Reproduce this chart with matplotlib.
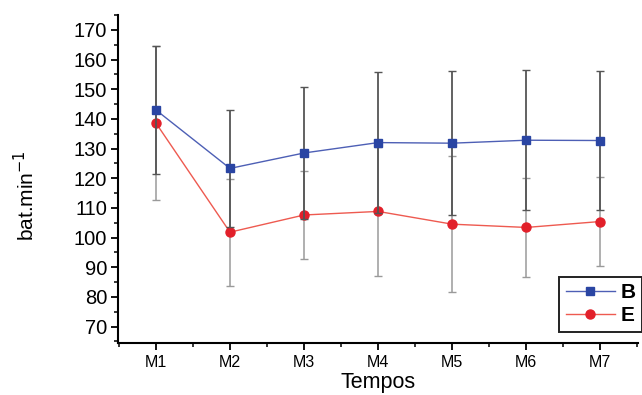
import matplotlib
matplotlib.use("Agg")
import matplotlib.pyplot as plt
from matplotlib.ticker import MultipleLocator

plt.rcParams["font.family"] = ["Liberation Sans", "DejaVu Sans"]

# Heart rate over time for groups B and E (mean +/- sd)
tempos = ["M1", "M2", "M3", "M4", "M5", "M6", "M7"]
b_mean = [143.0, 123.3, 128.5, 132.0, 131.8, 132.8, 132.7]
b_sd = [21.6, 19.7, 22.2, 23.7, 24.2, 23.6, 23.3]
e_mean = [138.6, 101.8, 107.6, 108.8, 104.5, 103.4, 105.4]
e_sd = [25.9, 18.0, 14.8, 21.6, 22.9, 16.6, 14.9]

x = list(range(1, len(tempos) + 1))

fig = plt.figure(figsize=(6.42, 3.95), dpi=100)
ax = fig.add_axes([0.184, 0.132, 0.810, 0.830])

eb_b = ax.errorbar(x, b_mean, yerr=b_sd, color="#4d5fb5", lw=1.0, marker="s", ms=6,
                   mfc="#2a45a3", mec="#2a45a3", ecolor="#555555", elinewidth=1.3,
                   capsize=3, capthick=1.0, label="B", zorder=3)
eb_e = ax.errorbar(x, e_mean, yerr=e_sd, color="#ee5a50", lw=1.0, marker="o", ms=6.5,
                   mfc="#e2202a", mec="#e2202a", ecolor="#9a9a9a", elinewidth=1.1,
                   capsize=3, capthick=1.0, label="E", zorder=2)

ax.set_xlim(0.49, 7.51)
ax.set_ylim(64.5, 175)
ax.set_xticks(x)
ax.set_xticklabels(tempos)
ax.xaxis.set_minor_locator(MultipleLocator(0.5))
ax.yaxis.set_major_locator(MultipleLocator(10))
ax.yaxis.set_minor_locator(MultipleLocator(5))

for side in ["top", "right"]:
    ax.spines[side].set_visible(False)
for side in ["left", "bottom"]:
    ax.spines[side].set_linewidth(1.5)

ax.tick_params(axis="y", which="major", labelsize=14.5, length=5, width=1.3,
               direction="out", pad=3)
ax.tick_params(axis="x", which="major", labelsize=11.5, length=5, width=1.3,
               direction="out", pad=4)
ax.tick_params(which="minor", length=3, width=1.1, direction="out")

ax.set_xlabel("Tempos", fontsize=15.5, labelpad=1)
ax.set_ylabel("bat.min$^{-1}$", fontsize=15)
ax.yaxis.set_label_coords(-0.153, 0.45)

leg = ax.legend(handles=[eb_b.lines[0], eb_e.lines[0]], labels=["B", "E"],
                loc="lower right", bbox_to_anchor=(1.008, 0.034), fancybox=False,
                edgecolor="#222222", framealpha=1, handlelength=2.35,
                prop={"weight": "bold", "size": 15}, borderpad=0.3,
                labelspacing=0.2, handletextpad=0.3, borderaxespad=0)
leg.get_frame().set_linewidth(1.4)

fig.savefig("out.png", dpi=100)
